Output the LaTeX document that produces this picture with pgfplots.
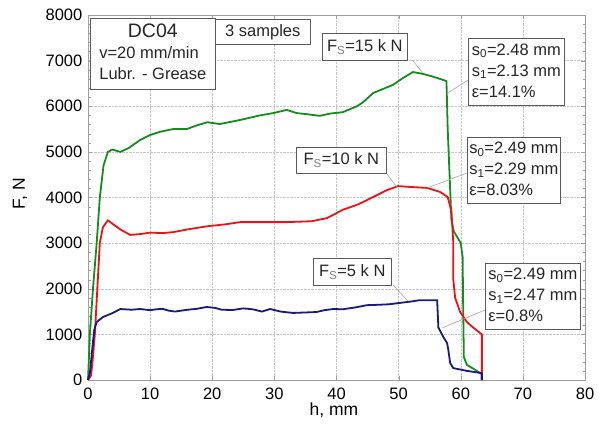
\documentclass[border=0pt]{standalone}
\usepackage{pgfplots}
\pgfplotsset{compat=1.18}
\usepackage{fontspec}
\setmainfont{Liberation Sans}
\definecolor{cgreen}{RGB}{20,140,30}
\definecolor{cred}{RGB}{235,20,20}
\definecolor{cblue}{RGB}{25,25,130}
\definecolor{boxline}{RGB}{90,90,90}
\begin{document}
\fontsize{16.5}{21}\selectfont
\begin{tikzpicture}
\begin{axis}[
  at={(0,0)}, anchor=south west,
  scale only axis, width=497pt, height=365pt,
  xmin=0, xmax=80, ymin=0, ymax=8000,
  xtick={0,10,...,80}, ytick={0,1000,...,8000},
  minor y tick num=4,
  scaled y ticks=false,
  /pgf/number format/assume math mode=true,
  /pgf/number format/1000 sep={},
  grid=major,
  grid style={densely dotted, gray!45},
  axis line style={gray!75, line width=0.8pt},
  tick style={gray!75},
  tick align=inside,
  major tick length=4pt, minor tick length=2.5pt,
  xticklabel style={yshift=-2pt},
  xlabel={h, mm}, ylabel={F, N},
  x label style={at={(axis description cs:0.495,-0.082)}, anchor=center, font=\fontsize{17.5}{20}\selectfont},
  y label style={at={(axis description cs:-0.137,0.51)}, anchor=center, font=\fontsize{17.5}{20}\selectfont},
  clip=false,
]
% green, F_S = 15 kN
\addplot[cgreen, line width=1.8pt] coordinates {
(0,0) (0.3,1000) (0.8,2000) (1.4,3000) (1.9,4000) (2.5,4700) (3.2,5000) (3.9,5050) (5.2,5000)
(6.5,5080) (8.4,5260) (10,5370) (11.6,5440) (13.7,5500) (15.9,5500) (17.5,5580) (19.2,5650)
(21.2,5610) (24.5,5700) (27.7,5800) (29.8,5850) (32,5920) (33.6,5850) (35,5830) (37.3,5790)
(39,5840) (41,5870) (43.3,6000) (44.3,6090) (45.9,6290) (47.5,6380) (49.1,6470) (50.7,6620)
(52.3,6750) (53.9,6710) (55.5,6650) (57.1,6580) (57.7,6550) (57.9,5500) (58.2,4500) (58.5,3500)
(58.9,3250) (59.5,3120) (60.0,3000) (60.3,2700) (60.4,1500) (60.5,500) (61,330) (62,250) (63.4,130) (63.4,0)
};
% red, F_S = 10 kN
\addplot[cred, line width=1.8pt] coordinates {
(0,0) (0.5,100) (0.8,500) (1.1,1000) (1.5,2000) (1.9,3000) (2.4,3350) (3.2,3500) (4.0,3420)
(5.2,3300) (6.8,3180) (8.5,3200) (10,3230) (12,3220) (13.7,3240) (16,3300) (19.2,3370) (22,3410)
(24.5,3460) (28,3460) (32,3460) (36,3480) (38.5,3550) (41,3730) (43.5,3850) (45.9,4010) (48.1,4160)
(49.9,4250) (52,4230) (54.6,4210) (56.7,4120) (57.9,4010) (58.5,3700) (58.8,3000) (58.8,2200)
(59.1,1800) (59.9,1490) (61,1270) (62,1150) (63.1,1030) (63.4,1000) (63.4,0)
};
% blue, F_S = 5 kN
\addplot[cblue, line width=1.8pt] coordinates {
(0,0) (0.3,150) (0.7,700) (1.0,1100) (1.4,1270) (2.4,1380) (4,1470) (5.2,1556) (7,1540) (8.4,1556)
(10,1530) (11,1550) (12,1560) (13,1520) (14,1500) (16,1540) (17.5,1560) (19.1,1600) (20.5,1580)
(21.5,1540) (23.3,1534) (25,1570) (26.5,1550) (28,1500) (29.3,1556) (31,1500) (33,1470) (35,1480)
(36.8,1490) (38,1530) (39.5,1556) (41,1550) (43,1590) (44.9,1640) (47,1650) (48.5,1660) (50.2,1690)
(52,1720) (53.4,1750) (55,1750) (56.2,1750) (56.4,1150) (57.2,940) (57.8,810) (58,660) (58.3,370)
(58.8,260) (61,200) (63.4,150) (63.4,0)
};
% callout lines
\draw[gray!70, line width=0.6pt] (axis cs:52.2,7014) -- (axis cs:53.9,6729);
\draw[gray!70, line width=0.6pt] (axis cs:61.2,6575) -- (axis cs:57.9,6290);
\draw[gray!70, line width=0.6pt] (axis cs:48.0,4537) -- (axis cs:49.7,4230);
\draw[gray!70, line width=0.6pt] (axis cs:61.0,4537) -- (axis cs:54.6,4208);
\draw[gray!70, line width=0.6pt] (axis cs:49.1,2082) -- (axis cs:51.5,1732);
\draw[gray!70, line width=0.6pt] (axis cs:63.9,1534) -- (axis cs:57.0,1140);
% boxes
\tikzset{bx/.style={draw=boxline, fill=white, line width=0.7pt, anchor=north west, inner sep=0pt, text=black!85}}
\node[bx, minimum width=125pt, minimum height=71pt] at (axis cs:0.32,7934)
  {\begin{tabular}{@{}l@{}}\multicolumn{1}{@{}c@{}}{\fontsize{19.5}{21}\selectfont DC04}\\ v=20 mm/min\\ Lubr. - Grease\end{tabular}};
\node[bx, minimum width=95pt, minimum height=25pt] at (axis cs:20.44,7912) {3 samples};
\node[bx, minimum width=85pt, minimum height=27pt] at (axis cs:37.67,7605) {F\textsubscript{\color{gray}S}=15 k N};
\node[bx, minimum width=90pt, minimum height=26pt] at (axis cs:33.48,5107) {F\textsubscript{\color{gray}S}=10 k N};
\node[bx, minimum width=78pt, minimum height=27pt] at (axis cs:36.2,2674) {F\textsubscript{\color{gray}S}=5 k N};
\node[bx, minimum width=96pt, minimum height=67pt] at (axis cs:61.17,7496)
  {\begin{tabular}{@{}l@{}}s\textsubscript{0}=2.48 mm\\ s\textsubscript{1}=2.13 mm\\ ε=14.1\%\end{tabular}};
\node[bx, minimum width=93pt, minimum height=66pt] at (axis cs:61.0,5326)
  {\begin{tabular}{@{}l@{}}s\textsubscript{0}=2.49 mm\\ s\textsubscript{1}=2.29 mm\\ ε=8.03\%\end{tabular}};
\node[bx, minimum width=95pt, minimum height=66pt] at (axis cs:63.9,2564)
  {\begin{tabular}{@{}l@{}}s\textsubscript{0}=2.49 mm\\ s\textsubscript{1}=2.47 mm\\ ε=0.8\%\end{tabular}};
\end{axis}
\pgfresetboundingbox
\path (-88pt,-56pt) rectangle (519pt,380pt);
\end{tikzpicture}
\end{document}
